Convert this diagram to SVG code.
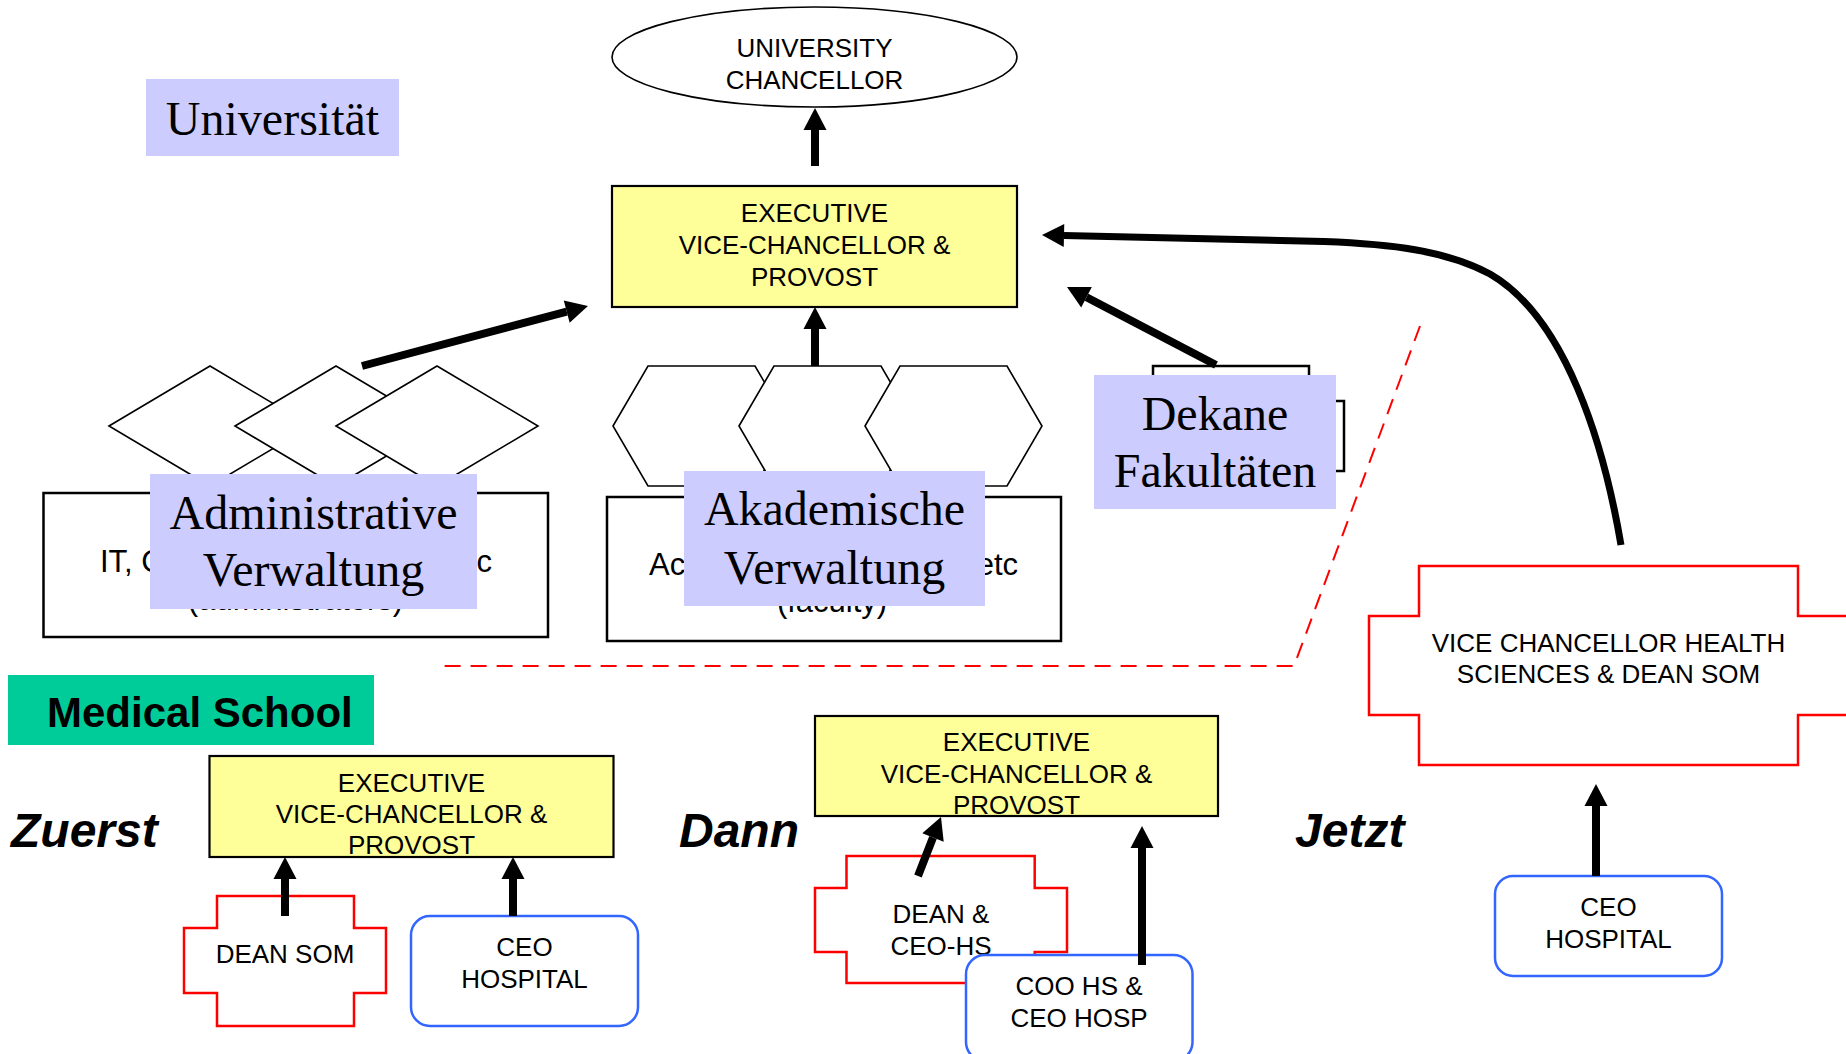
<svg xmlns="http://www.w3.org/2000/svg" width="1846" height="1054" viewBox="0 0 1846 1054">
  <defs>
    <style>
      .sans { font-family: "Liberation Sans", Arial, sans-serif; fill: #000; }
      .c26 { font-size: 26px; text-anchor: middle; }
      .c31 { font-size: 31px; }
      .serif48 { font-family: "Liberation Serif", "Times New Roman", serif; font-size: 48px; text-anchor: middle; fill: #000; }
      .phase { font-family: "Liberation Sans", Arial, sans-serif; font-size: 48px; font-weight: bold; font-style: italic; fill: #000; }
      .outline { fill: #fff; stroke: #000; stroke-width: 1.6; }
      .box { fill: #fff; stroke: #000; stroke-width: 2.5; }
      .exec { fill: #ffff99; stroke: #000; stroke-width: 2.2; }
      .label { fill: #ccccff; }
      .dean { fill: #fff; stroke: #ff0000; stroke-width: 2.5; }
      .hosp { fill: #fff; stroke: #3366ff; stroke-width: 2.5; }
      .arrow { fill: none; stroke: #000; stroke-width: 8; marker-end: url(#head); }
      .curve { fill: none; stroke: #000; stroke-width: 7; marker-end: url(#head); }
      .divider { fill: none; stroke: #ff0000; stroke-width: 2; stroke-dasharray: 16 10; }
    </style>
    <marker id="head" markerUnits="userSpaceOnUse" viewBox="0 0 22 23" markerWidth="22" markerHeight="23" refX="0" refY="11.5" orient="auto" overflow="visible">
      <path d="M0,0 L22,11.5 L0,23 z" fill="#000"/>
    </marker>
  </defs>

  <rect width="1846" height="1054" fill="#fff"/>

  <!-- University section -->
  <g id="label-universitaet">
    <rect class="label" x="146" y="79" width="253" height="77"/>
    <text class="serif48" x="272.5" y="135">Universität</text>
  </g>

  <g id="node-chancellor">
    <ellipse cx="814.5" cy="57" rx="202.5" ry="50" class="outline"/>
    <text class="sans c26" x="814.5" y="57">UNIVERSITY</text>
    <text class="sans c26" x="814.5" y="89">CHANCELLOR</text>
  </g>

  <g id="node-evc-top">
    <rect class="exec" x="612" y="186" width="405" height="121"/>
    <text class="sans c26" x="814.5" y="222">EXECUTIVE</text>
    <text class="sans c26" x="814.5" y="254">VICE-CHANCELLOR &amp;</text>
    <text class="sans c26" x="814.5" y="286">PROVOST</text>
  </g>

  <!-- administrative units: three overlapping diamonds over a box -->
  <g id="node-admin">
    <polygon class="outline" points="109,426 210,366 311,426 210,486"/>
    <polygon class="outline" points="235,426 336,366 437,426 336,486"/>
    <polygon class="outline" points="336,426 437,366 538,426 437,486"/>
    <rect class="box" x="43.5" y="493" width="504.5" height="144"/>
    <text class="sans c31"><tspan x="100" y="572">IT, C</tspan><tspan x="492" y="572" text-anchor="end">etc</tspan></text>
    <text class="sans c31" x="295.5" y="610" text-anchor="middle">(administrators)</text>
  </g>
  <g id="label-admin">
    <rect class="label" x="150" y="474" width="327" height="135"/>
    <text class="serif48" x="313.5" y="529">Administrative</text>
    <text class="serif48" x="313.5" y="586">Verwaltung</text>
  </g>

  <!-- academic units: three overlapping hexagons over a box -->
  <g id="node-academic">
    <polygon class="outline" points="613,426 648,366 755,366 790,426 755,486 648,486"/>
    <polygon class="outline" points="739,426 774,366 881,366 916,426 881,486 774,486"/>
    <polygon class="outline" points="865,426 900,366 1007,366 1042,426 1007,486 900,486"/>
    <rect class="box" x="607" y="497" width="454" height="144"/>
    <text class="sans c31"><tspan x="649" y="575">Ac</tspan><tspan x="1018" y="575" text-anchor="end">etc</tspan></text>
    <text class="sans c31" x="832" y="612" text-anchor="middle">(faculty)</text>
  </g>
  <g id="label-academic">
    <rect class="label" x="684" y="471" width="301" height="135"/>
    <text class="serif48" x="834.5" y="525">Akademische</text>
    <text class="serif48" x="834.5" y="584">Verwaltung</text>
  </g>

  <!-- deans: stacked boxes behind the label -->
  <g id="node-deans">
    <rect class="box" x="1153" y="366" width="156" height="84" stroke-width="2"/>
    <rect class="box" x="1190" y="401" width="154" height="70" stroke-width="2"/>
  </g>
  <g id="label-deans">
    <rect class="label" x="1094" y="375" width="242" height="134"/>
    <text class="serif48" x="1215" y="430">Dekane</text>
    <text class="serif48" x="1215" y="487">Fakultäten</text>
  </g>

  <!-- Medical School section -->
  <g id="label-medical-school">
    <rect x="8" y="675" width="366" height="70" fill="#00cc99"/>
    <text class="sans" x="47" y="727" font-size="42" font-weight="bold">Medical School</text>
  </g>

  <g id="label-zuerst"><text class="phase" x="11" y="847">Zuerst</text></g>
  <g id="label-dann"><text class="phase" x="679" y="847">Dann</text></g>
  <g id="label-jetzt"><text class="phase" x="1295" y="847">Jetzt</text></g>

  <!-- Zuerst -->
  <g id="node-evc-zuerst">
    <rect class="exec" x="209.5" y="756" width="404" height="101"/>
    <text class="sans c26" x="411.5" y="792">EXECUTIVE</text>
    <text class="sans c26" x="411.5" y="823">VICE-CHANCELLOR &amp;</text>
    <text class="sans c26" x="411.5" y="854">PROVOST</text>
  </g>
  <g id="node-dean-som">
    <path class="dean" d="M217,896 H354 V928 H386 V993 H354 V1026 H217 V993 H184 V928 H217 Z"/>
    <text class="sans c26" x="285" y="963">DEAN SOM</text>
  </g>
  <g id="node-ceo-hospital-zuerst">
    <rect class="hosp" x="411" y="916" width="227" height="110" rx="19"/>
    <text class="sans c26" x="524.5" y="956">CEO</text>
    <text class="sans c26" x="524.5" y="988">HOSPITAL</text>
  </g>

  <!-- Dann -->
  <g id="node-evc-dann">
    <rect class="exec" x="815" y="716" width="403" height="100"/>
    <text class="sans c26" x="1016.5" y="751">EXECUTIVE</text>
    <text class="sans c26" x="1016.5" y="783">VICE-CHANCELLOR &amp;</text>
    <text class="sans c26" x="1016.5" y="814">PROVOST</text>
  </g>
  <g id="node-dean-ceo-hs">
    <path class="dean" d="M846.5,856 H1034.7 V888 H1067 V952 H1034.7 V983 H846.5 V952 H815 V888 H846.5 Z"/>
    <text class="sans c26" x="941" y="923">DEAN &amp;</text>
    <text class="sans c26" x="941" y="955">CEO-HS</text>
  </g>
  <g id="node-coo-hs">
    <rect class="hosp" x="966" y="955" width="226.5" height="106" rx="19"/>
    <text class="sans c26" x="1079" y="995">COO HS &amp;</text>
    <text class="sans c26" x="1079" y="1027">CEO HOSP</text>
  </g>

  <!-- Jetzt -->
  <g id="node-vc-health">
    <path class="dean" d="M1419,566 H1798 V616 H1862 V715 H1798 V765 H1419 V715 H1369 V616 H1419 Z"/>
    <text class="sans c26" x="1608.5" y="652">VICE CHANCELLOR HEALTH</text>
    <text class="sans c26" x="1608.5" y="683">SCIENCES &amp; DEAN SOM</text>
  </g>
  <g id="node-ceo-hospital-jetzt">
    <rect class="hosp" x="1495" y="876" width="227" height="100" rx="18"/>
    <text class="sans c26" x="1608.5" y="916">CEO</text>
    <text class="sans c26" x="1608.5" y="948">HOSPITAL</text>
  </g>

  <!-- dashed boundary between the university and the medical school -->
  <g id="divider">
    <path class="divider" d="M1420,326 L1294,666 L438,666"/>
  </g>

  <!-- reporting lines -->
  <g id="connectors">
    <path class="arrow" d="M815,166 L815,130"/>
    <path class="arrow" d="M815,366 L815,329"/>
    <path class="arrow" d="M362,366 L566.7,311.6"/>
    <path class="arrow" d="M1216,365 L1086.5,297.2"/>
    <path class="curve" d="M1621,545 C1604,445 1566,318 1490,274 C1445,250 1390,244 1324,241.5 L1064,235.5"/>
    <path class="arrow" d="M285,916 L285,879"/>
    <path class="arrow" d="M513,916 L513,879"/>
    <path class="arrow" d="M918,876 L933,837.5"/>
    <path class="arrow" d="M1142,965 L1142,848"/>
    <path class="arrow" d="M1596,876 L1596,806"/>
  </g>
</svg>
